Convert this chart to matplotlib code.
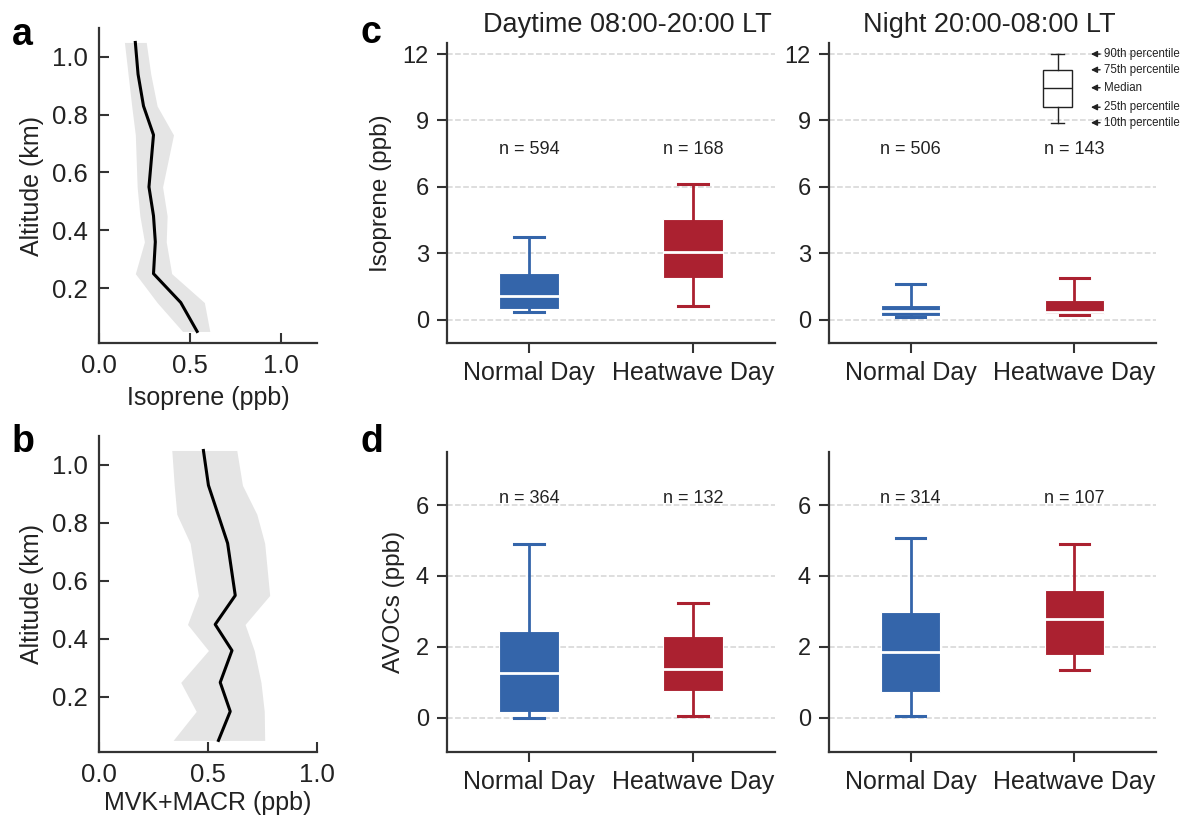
import matplotlib
matplotlib.use('Agg')
import matplotlib.pyplot as plt

plt.rcParams['font.family'] = ['Liberation Sans', 'DejaVu Sans']

# vertical profiles (a, b)
alt_a = [0.05, 0.15, 0.25, 0.36, 0.45, 0.55, 0.73, 0.83, 0.94, 1.05]
iso_med = [0.54, 0.45, 0.30, 0.31, 0.30, 0.275, 0.30, 0.245, 0.215, 0.20]
iso_lo = [0.46, 0.32, 0.20, 0.25, 0.225, 0.21, 0.20, 0.18, 0.16, 0.14]
iso_hi = [0.61, 0.58, 0.40, 0.37, 0.375, 0.35, 0.41, 0.32, 0.285, 0.26]

alt_b = [0.05, 0.15, 0.25, 0.36, 0.45, 0.55, 0.73, 0.83, 0.93, 1.05]
mvk_med = [0.548, 0.602, 0.556, 0.61, 0.533, 0.625, 0.59, 0.546, 0.502, 0.479]
mvk_lo = [0.34, 0.446, 0.375, 0.502, 0.406, 0.456, 0.418, 0.357, 0.345, 0.334]
mvk_hi = [0.76, 0.758, 0.743, 0.712, 0.67, 0.783, 0.76, 0.724, 0.658, 0.632]

# box stats: [p10, p25, median, p75, p90] for Normal Day, Heatwave Day
groups = ['Normal Day', 'Heatwave Day']
iso_day = [[0.33, 0.48, 1.08, 2.09, 3.76], [0.62, 1.89, 3.08, 4.55, 6.11]]
iso_night = [[0.14, 0.19, 0.38, 0.68, 1.62], [0.21, 0.27, 0.37, 0.87, 1.88]]
avoc_day = [[0.0, 0.16, 1.26, 2.44, 4.89], [0.05, 0.76, 1.37, 2.30, 3.24]]
avoc_night = [[0.04, 0.73, 1.85, 2.98, 5.06], [1.35, 1.78, 2.79, 3.59, 4.90]]
n_iso_day = [594, 168]
n_iso_night = [506, 143]
n_avoc_day = [364, 132]
n_avoc_night = [314, 107]

legend_stats = [8.9, 9.6, 10.48, 11.29, 12.0]
legend_labels = ['10th percentile', '25th percentile', 'Median',
                 '75th percentile', '90th percentile']

colors = ['#3465AA', '#AB2130']
spine_c = '#333333'

W, H = 1187, 817
fig = plt.figure(figsize=(W / 100, H / 100), dpi=100)


def rect(l, r, t, b):
    return [l / W, 1 - b / H, (r - l) / W, (b - t) / H]


def profile(ax, alt, med, lo, hi, xlabel, xmax, xpad):
    ax.fill_betweenx(alt, lo, hi, color='#E5E5E5', lw=0)
    ax.plot(med, alt, color='black', lw=2.2)
    ax.set_xlim(0, xmax)
    ax.set_ylim(0.01, 1.1)
    ax.set_xticks([0, 0.5, 1.0])
    ax.set_yticks([0.2, 0.4, 0.6, 0.8, 1.0])
    ax.tick_params(direction='in', length=7, width=1.5, color=spine_c,
                   labelsize=18.5, labelcolor='#222222', pad=8)
    for s in ['top', 'right']:
        ax.spines[s].set_visible(False)
    for s in ['left', 'bottom']:
        ax.spines[s].set_linewidth(1.6)
        ax.spines[s].set_color(spine_c)
    ax.set_xlabel(xlabel, fontsize=18, color='#222222', labelpad=xpad)
    ax.set_ylabel('Altitude (km)', fontsize=18, color='#222222', labelpad=6)


ax_a = fig.add_axes(rect(99, 317, 28, 343))
profile(ax_a, alt_a, iso_med, iso_lo, iso_hi, 'Isoprene (ppb)', 1.2, 6)
ax_b = fig.add_axes(rect(99, 317, 436, 752))
profile(ax_b, alt_b, mvk_med, mvk_lo, mvk_hi, 'MVK+MACR (ppb)', 1.0, 3)


def make_stats(vals):
    out = []
    for v in vals:
        out.append(dict(whislo=v[0], q1=v[1], med=v[2], q3=v[3], whishi=v[4], fliers=[]))
    return out


def boxes(ax, vals, ns, ylim, yticks, n_y, ylabel=None):
    stats = make_stats(vals)
    for i, st in enumerate(stats):
        c = colors[i]
        ax.bxp([st], positions=[i], widths=0.36, capwidths=0.18,
               patch_artist=True, showfliers=False,
               boxprops=dict(facecolor=c, edgecolor='white', lw=0.8),
               medianprops=dict(color='white', lw=2),
               whiskerprops=dict(color=c, lw=2),
               capprops=dict(color=c, lw=2.2))
        ax.text(i, n_y, 'n = %d' % ns[i], ha='center', va='center',
                fontsize=13, color='#222222')
    ax.set_xlim(-0.5, 1.5)
    ax.set_ylim(*ylim)
    ax.set_yticks(yticks)
    ax.set_xticks([0, 1])
    ax.set_xticklabels(groups)
    ax.yaxis.grid(True, ls='--', color='#d4d4d4', lw=1.1)
    ax.set_axisbelow(True)
    ax.tick_params(axis='y', direction='out', length=7, width=1.5, color=spine_c,
                   labelsize=17, labelcolor='#222222', pad=6)
    ax.tick_params(axis='x', direction='out', length=7, width=1.5, color=spine_c,
                   labelsize=18, labelcolor='#222222', pad=6)
    for s in ['top', 'right']:
        ax.spines[s].set_visible(False)
    for s in ['left', 'bottom']:
        ax.spines[s].set_linewidth(1.6)
        ax.spines[s].set_color(spine_c)
    if ylabel:
        ax.set_ylabel(ylabel, fontsize=17.5, color='#222222', labelpad=8)


ax_c1 = fig.add_axes(rect(447, 775, 43, 343))
boxes(ax_c1, iso_day, n_iso_day, (-1.05, 12.5), [0, 3, 6, 9, 12], 7.7, 'Isoprene (ppb)')
ax_c2 = fig.add_axes(rect(829, 1156, 43, 343))
boxes(ax_c2, iso_night, n_iso_night, (-1.05, 12.5), [0, 3, 6, 9, 12], 7.7)
ax_d1 = fig.add_axes(rect(447, 775, 452, 752))
boxes(ax_d1, avoc_day, n_avoc_day, (-0.97, 7.5), [0, 2, 4, 6], 6.2, 'AVOCs (ppb)')
ax_d2 = fig.add_axes(rect(829, 1156, 452, 752))
boxes(ax_d2, avoc_night, n_avoc_night, (-0.97, 7.5), [0, 2, 4, 6], 6.2)

ax_c1.text(0.55, 1.035, 'Daytime 08:00-20:00 LT', transform=ax_c1.transAxes,
           ha='center', va='baseline', fontsize=19.5, color='#222222')
ax_c2.text(0.49, 1.035, 'Night 20:00-08:00 LT', transform=ax_c2.transAxes,
           ha='center', va='baseline', fontsize=19.5, color='#222222')

# schematic legend box in the night panel
leg = make_stats([legend_stats])
ax_c2.bxp(leg, positions=[0.9], widths=0.177, capwidths=0.08,
          patch_artist=True, showfliers=False,
          boxprops=dict(facecolor='white', edgecolor='#222222', lw=1),
          medianprops=dict(color='#222222', lw=1),
          whiskerprops=dict(color='#222222', lw=1),
          capprops=dict(color='#222222', lw=1))
ax_c2.set_xticks([0, 1])
ax_c2.set_xticklabels(groups)
ax_c2.set_xlim(-0.5, 1.5)
for v, lab in zip(legend_stats, legend_labels):
    ax_c2.annotate('', xy=(1.085, v), xytext=(1.175, v),
                   arrowprops=dict(arrowstyle='-|>', color='#222222', lw=1,
                                   mutation_scale=9), annotation_clip=False)
    ax_c2.text(1.185, v, lab, ha='left', va='center', fontsize=8.3,
               color='#222222', clip_on=False)

for lab, x, y in [('a', 12, 45), ('b', 12, 452), ('c', 360, 43), ('d', 360, 452)]:
    fig.text(x / W, 1 - y / H, lab, fontsize=27, fontweight='bold',
             ha='left', va='baseline')

fig.savefig('out.png', dpi=100)
